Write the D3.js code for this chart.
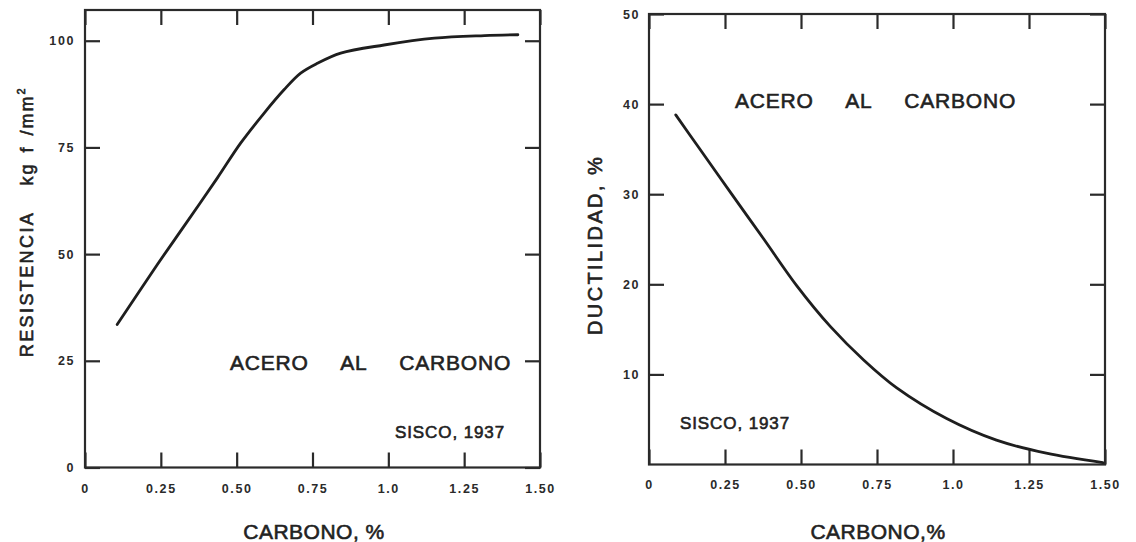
<!DOCTYPE html>
<html>
<head>
<meta charset="utf-8">
<script src="https://cdn.jsdelivr.net/npm/d3@7"></script>
<style>
  body { margin: 0; background: #fff; }
  svg { display: block; font-family: "Liberation Sans", Arial, sans-serif; }
  .tick text { font-size: 12.5px; font-weight: bold; letter-spacing: 1.6px; fill: #2a2a2a; }
  .tick line { stroke: #2a2a2a; stroke-width: 2.2; }
  .domain { display: none; }
  .lbl { fill: #222; stroke: #222; stroke-width: 0.6px; }
</style>
</head>
<body>
<main></main>
<script>
// carbon % vs tensile strength (kgf/mm2), Sisco 1937
const resCarbon = [0.106, 0.238, 0.326, 0.436, 0.513, 0.590, 0.656, 0.711, 0.766, 0.843, 0.986, 1.152, 1.317, 1.427];
const resValues = [33.5, 47.5, 56.5, 67.8, 76.0, 83.0, 88.5, 92.4, 94.7, 97.1, 99.0, 100.6, 101.2, 101.4];

// carbon % vs ductility %
const ducCarbon = [0.088, 0.159, 0.268, 0.378, 0.487, 0.597, 0.706, 0.815, 0.979, 1.143, 1.307, 1.493];
const ducValues = [38.8, 35.4, 30.2, 25.0, 19.8, 15.3, 11.6, 8.5, 5.1, 2.7, 1.25, 0.2];

const xTicks = [0, 0.25, 0.5, 0.75, 1.0, 1.25, 1.5];
const xTickLabels = ["0", "0.25", "0.50", "0.75", "1.0", "1.25", "1.50"];
const resTicks = [0, 25, 50, 75, 100];
const ducTicks = [10, 20, 30, 40, 50];

const width = 1136, height = 542;
const svg = d3.select("main").append("svg").attr("width", width).attr("height", height);

function panel(opts) {
    const { x, y, carbon, values, yTicks, yPad, xPad } = opts;
    const [x0, x1] = x.range();
    const [y0, y1] = y.range();
    const g = svg.append("g");

    g.append("rect")
        .attr("x", x0).attr("y", y1)
        .attr("width", x1 - x0).attr("height", y0 - y1)
        .attr("fill", "none").attr("stroke", "#2a2a2a").attr("stroke-width", 2.2);

    const fmt = d => xTickLabels[xTicks.indexOf(d)];
    g.append("g").attr("transform", `translate(0,${y0})`)
        .call(d3.axisBottom(x).tickValues(xTicks).tickFormat(fmt).tickSize(-15).tickPadding(xPad));
    g.append("g").attr("transform", `translate(0,${y1})`)
        .call(d3.axisTop(x).tickValues(xTicks).tickFormat("").tickSize(-15));
    g.append("g").attr("transform", `translate(${x0},0)`)
        .call(d3.axisLeft(y).tickValues(yTicks).tickSize(-15).tickPadding(yPad));
    g.append("g").attr("transform", `translate(${x1},0)`)
        .call(d3.axisRight(y).tickValues(yTicks).tickFormat("").tickSize(-15));

    const line = d3.line()
        .x((d, i) => x(carbon[i]))
        .y(d => y(d))
        .curve(d3.curveCatmullRom.alpha(0.5));
    g.append("path")
        .datum(values)
        .attr("d", line)
        .attr("fill", "none")
        .attr("stroke", "#1e1e1e")
        .attr("stroke-width", 2.8)
        .attr("stroke-linecap", "round");
    return g;
}

function label(g, txt, px, py, size, extra) {
    const t = g.append("text")
        .attr("class", "lbl")
        .attr("x", px).attr("y", py)
        .attr("font-size", size)
        .text(txt);
    if (extra) extra(t);
    return t;
}

// left panel: resistencia
const xL = d3.scaleLinear().domain([0, 1.5]).range([85, 540]);
const yL = d3.scaleLinear().domain([0, 107.2]).range([467.5, 10]);
const left = panel({ x: xL, y: yL, carbon: resCarbon, values: resValues, yTicks: resTicks, yPad: 10, xPad: 17 });

label(left, "ACERO AL CARBONO", 230, 370, 21, t => t.attr("word-spacing", "26px").attr("letter-spacing", "0.8px"));
label(left, "SISCO,  1937", 395, 438, 17, t => t.attr("letter-spacing", "0.9px"));
label(left, "CARBONO, %", 314, 539, 21, t => t.attr("text-anchor", "middle").attr("letter-spacing", "0.5px"));
label(left, "RESISTENCIA", 0, 0, 18, t => t
    .attr("text-anchor", "middle").attr("letter-spacing", "2.4px")
    .attr("transform", "translate(33,284) rotate(-90)"));
label(left, "kg f /mm", 0, 0, 18, t => {
    t.attr("text-anchor", "middle").attr("letter-spacing", "2px")
        .attr("word-spacing", "3px")
        .attr("transform", "translate(33,136) rotate(-90)");
    t.append("tspan").attr("dy", -8).attr("font-size", 11).text("2");
});

// right panel: ductilidad
const xR = d3.scaleLinear().domain([0, 1.5]).range([649, 1105]);
const yR = d3.scaleLinear().domain([0, 50]).range([464.5, 14]);
const right = panel({ x: xR, y: yR, carbon: ducCarbon, values: ducValues, yTicks: ducTicks, yPad: 9, xPad: 16 });

label(right, "ACERO AL CARBONO", 735, 108, 21, t => t.attr("word-spacing", "26px").attr("letter-spacing", "0.8px"));
label(right, "SISCO,  1937", 680, 429, 17, t => t.attr("letter-spacing", "0.9px"));
label(right, "CARBONO,%", 878, 539, 21, t => t.attr("text-anchor", "middle").attr("letter-spacing", "0.5px"));
label(right, "DUCTILIDAD,  %", 0, 0, 20, t => t
    .attr("text-anchor", "middle").attr("letter-spacing", "2.4px")
    .attr("transform", "translate(602,245) rotate(-90)"));
</script>
</body>
</html>
